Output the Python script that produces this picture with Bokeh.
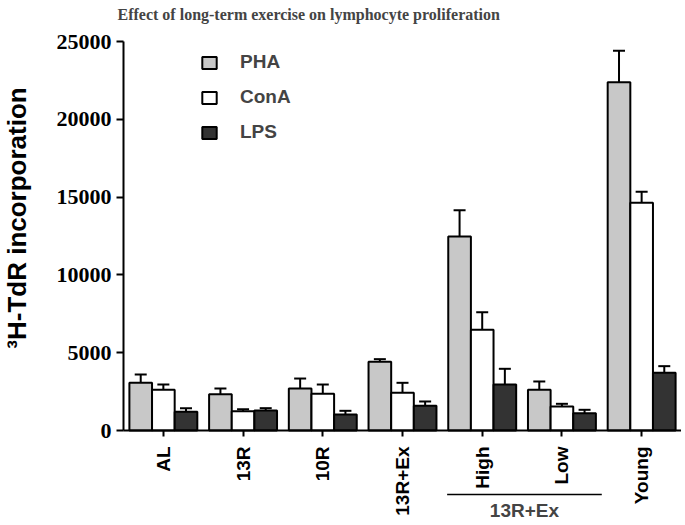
import math
from bokeh.plotting import figure
from bokeh.models import (ColumnDataSource, Range1d, Whisker, TeeHead, Label,
                          FixedTicker, Legend)
from bokeh.transform import dodge
from bokeh.embed import file_html
from bokeh.resources import INLINE

# ---- data ----
categories = ["AL", "13R", "10R", "13R+Ex", "High", "Low", "Young"]
series_names = ["PHA", "ConA", "LPS"]
pha = [3065, 2330, 2700, 4415, 12470, 2615, 22385]
pha_err = [535, 370, 640, 170, 1690, 535, 2020]
cona = [2615, 1240, 2355, 2420, 6470, 1540, 14635]
cona_err = [340, 130, 600, 645, 1130, 175, 705]
lps = [1200, 1285, 1030, 1590, 2955, 1115, 3705]
lps_err = [230, 150, 235, 275, 1010, 215, 430]
y_ticks = [0, 5000, 10000, 15000, 20000, 25000]
y_max = 25000
group_label = "13R+Ex"
group_members = ["High", "Low"]
title_text = "Effect of long-term exercise on lymphocyte proliferation"
y_label = "\u00b3H-TdR incorporation"

# ---- styles / layout (pixels) ----
colors = ["#c8c8c8", "#ffffff", "#333333"]
bar_w = 0.284
offsets = [-bar_w, 0.0, bar_w]
SANS = "Liberation Sans"
SERIF = "Liberation Serif"
LEFT_PX = 123          # space left of the y axis
AXIS_W = 558           # pixel width of the category axis
AXIS_PX = 389          # pixel height of the 0..y_max axis
TOP_PX = 41            # space above the axis top
BOTTOM_PX = 93         # space below the zero line
PX = y_max / AXIS_PX   # data units per pixel (y)
n = len(categories)
UX = n / AXIS_W        # data units per pixel (x)
W = LEFT_PX + AXIS_W
H = AXIS_PX + TOP_PX + BOTTOM_PX

pos = list(range(n))

p = figure(x_range=Range1d(-0.5 - LEFT_PX * UX, n - 0.5),
           y_range=Range1d(-BOTTOM_PX * PX, y_max + TOP_PX * PX),
           frame_width=W, frame_height=H,
           min_border_left=0, min_border_right=0,
           min_border_top=0, min_border_bottom=0,
           output_backend="svg", toolbar_location=None)

values = [pha, cona, lps]
errs = [pha_err, cona_err, lps_err]
items = []
for name, vals, er, col, off in zip(series_names, values, errs, colors, offsets):
    src = ColumnDataSource(dict(pos=pos, val=vals,
                                up=[v + e for v, e in zip(vals, er)]))
    r = p.vbar(x=dodge("pos", off), top="val", bottom=0,
               width=bar_w, source=src, fill_color=col,
               line_color="black", line_width=2)
    w = Whisker(base=dodge("pos", off), lower="val", upper="up",
                source=src, line_color="black", line_width=2,
                lower_head=None,
                upper_head=TeeHead(size=12, line_color="black", line_width=2))
    p.add_layout(w)
    items.append((name, [r]))

legend = Legend(items=items, location=(LEFT_PX + 77, 287 + BOTTOM_PX),
                orientation="vertical",
                glyph_height=15, glyph_width=18, label_height=20, spacing=13,
                padding=0, margin=0, label_standoff=22,
                border_line_color=None, background_fill_alpha=0,
                label_text_font=SANS, label_text_font_style="bold",
                label_text_font_size="19px")
p.add_layout(legend, "center")

p.xgrid.grid_line_color = None
p.ygrid.grid_line_color = None
p.outline_line_color = None

p.yaxis.fixed_location = -0.5
p.yaxis.ticker = FixedTicker(ticks=y_ticks)
p.yaxis.bounds = (0, y_max)
p.yaxis.minor_tick_line_color = None
p.yaxis.major_tick_out = 7
p.yaxis.major_tick_in = 0
p.yaxis.major_tick_line_width = 2
p.yaxis.axis_line_width = 2
p.yaxis.major_label_standoff = 5
p.yaxis.major_label_text_font = SERIF
p.yaxis.major_label_text_font_style = "bold"
p.yaxis.major_label_text_font_size = "22px"
p.yaxis.major_label_text_color = "black"

p.xaxis.fixed_location = 0
p.xaxis.ticker = FixedTicker(ticks=pos)
p.xaxis.major_label_overrides = {i: c for i, c in zip(pos, categories)}
p.xaxis.bounds = (-0.5, n - 0.5)
p.xaxis.minor_tick_line_color = None
p.xaxis.major_tick_out = 6
p.xaxis.major_tick_in = 0
p.xaxis.major_tick_line_width = 2
p.xaxis.axis_line_width = 2
p.xaxis.major_label_orientation = math.pi / 2
p.xaxis.major_label_standoff = 10
p.xaxis.major_label_text_font = SANS
p.xaxis.major_label_text_font_style = "bold"
p.xaxis.major_label_text_font_size = "19px"
p.xaxis.major_label_text_color = "black"

# y-axis title
p.add_layout(Label(x=16, y=H - 217.5, x_units="screen", y_units="screen",
                   text=y_label, angle=math.pi / 2, text_align="center",
                   text_baseline="middle", text_font=SANS,
                   text_font_style="bold", text_font_size="26px",
                   text_color="black"))

# chart title
p.add_layout(Label(x=LEFT_PX - 6, y=H - 14, x_units="screen", y_units="screen",
                   text=title_text, text_align="left", text_baseline="middle",
                   text_font=SERIF, text_font_style="bold", text_font_size="16px"))

# group bracket below High/Low
i0 = categories.index(group_members[0])
i1 = categories.index(group_members[-1])
x_left = i0 - 0.44
x_right = i1 + 0.5
p.segment(x0=[x_left], x1=[x_right], y0=[-64 * PX], y1=[-64 * PX],
          line_color="black", line_width=1.5)
p.add_layout(Label(x=(x_left + x_right) / 2, y=-80 * PX, x_units="data",
                   y_units="data", text=group_label, text_align="center",
                   text_baseline="middle", text_font=SANS,
                   text_font_style="bold", text_font_size="19px"))

open("out.html", "w").write(file_html(p, INLINE))
